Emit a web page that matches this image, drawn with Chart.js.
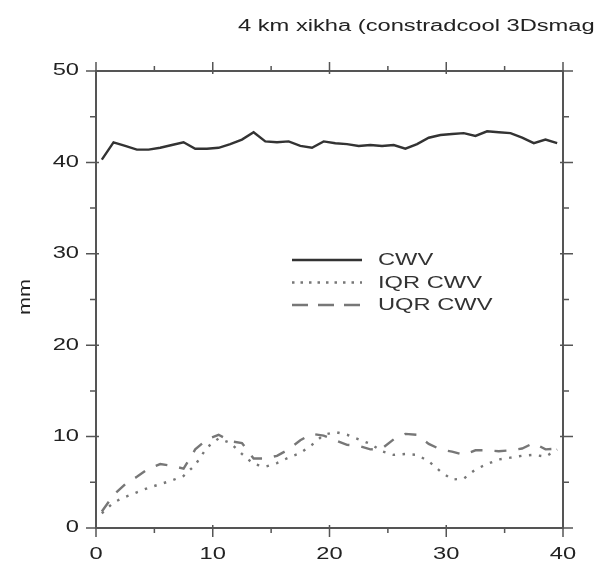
<!DOCTYPE html>
<html>
<head>
<meta charset="utf-8">
<script src="https://cdn.jsdelivr.net/npm/chart.js@4/dist/chart.umd.min.js"></script>
<style>
  html, body { margin: 0; padding: 0; background: #fff; }
  canvas { display: block; }
</style>
</head>
<body>
<canvas id="cwvChart" width="602" height="572"></canvas>
<script>
const dias = [0.5, 1.5, 2.5, 3.5, 4.5, 5.5, 6.5, 7.5, 8.5, 9.5,
  10.5, 11.5, 12.5, 13.5, 14.5, 15.5, 16.5, 17.5, 18.5, 19.5,
  20.5, 21.5, 22.5, 23.5, 24.5, 25.5, 26.5, 27.5, 28.5, 29.5,
  30.5, 31.5, 32.5, 33.5, 34.5, 35.5, 36.5, 37.5, 38.5, 39.5];

const cwv = [40.3, 42.2, 41.8, 41.4, 41.4, 41.6, 41.9, 42.2, 41.5, 41.5,
  41.6, 42.0, 42.5, 43.3, 42.3, 42.2, 42.3, 41.8, 41.6, 42.3,
  42.1, 42.0, 41.8, 41.9, 41.8, 41.9, 41.5, 42.0, 42.7, 43.0,
  43.1, 43.2, 42.9, 43.4, 43.3, 43.2, 42.7, 42.1, 42.5, 42.1];

const iqr = [1.6, 2.8, 3.4, 3.9, 4.4, 4.8, 5.2, 5.7, 6.9, 8.8,
  9.8, 9.3, 8.1, 7.0, 6.7, 7.1, 7.7, 8.2, 9.1, 10.2,
  10.5, 10.2, 9.7, 9.2, 8.4, 8.0, 8.1, 8.0, 7.3, 6.2,
  5.3, 5.4, 6.4, 7.0, 7.5, 7.7, 7.9, 8.0, 7.8, 8.6];

const uqr = [1.8, 3.6, 4.8, 5.6, 6.5, 7.0, 6.8, 6.5, 8.6, 9.7,
  10.2, 9.5, 9.3, 7.6, 7.6, 7.9, 8.6, 9.6, 10.3, 10.1,
  9.6, 9.1, 9.0, 8.6, 8.7, 9.7, 10.3, 10.2, 9.2, 8.6,
  8.35, 8.0, 8.5, 8.5, 8.4, 8.5, 8.7, 9.3, 8.6, 8.7];

const xTicks = [0, 10, 20, 30, 40];
const yTicks = [0, 10, 20, 30, 40, 50];
const titulo = '4 km xikha (constradcool 3Dsmag';
const ejeY = 'mm';

const FUENTE = '"Liberation Sans", Arial, sans-serif';
const EJE = '#555';
const ANCHO = 1.48; // letra ensanchada

const series = [
  { label: 'CWV', data: cwv, color: '#333', width: 2.4, dash: [], dashLey: [] },
  { label: 'IQR CWV', data: iqr, color: '#777', width: 2.4, dash: [2.5, 7.5], dashLey: [2.5, 6] },
  { label: 'UQR CWV', data: uqr, color: '#777', width: 2.4, dash: [12, 12], dashLey: [16, 10] },
];

function texto(ctx, t, x, y, align, ancho) {
  ctx.save();
  ctx.translate(x, y);
  ctx.scale(ancho, 1);
  ctx.textAlign = align;
  ctx.fillText(t, 0, 0);
  ctx.restore();
}

// marco, marcas y etiquetas de ejes, titulo y leyenda
const marcoYLeyenda = {
  id: 'marcoYLeyenda',
  afterDraw(chart) {
    const { ctx, chartArea: a, scales } = chart;
    const sx = scales.x, sy = scales.y;
    ctx.save();
    ctx.strokeStyle = EJE;
    ctx.lineWidth = 2;
    ctx.strokeRect(a.left, a.top, a.right - a.left, a.bottom - a.top);

    ctx.lineWidth = 1.5;
    ctx.beginPath();
    for (let v = 0; v <= 40; v += 5) {
      const px = sx.getPixelForValue(v);
      const mayor = v % 10 === 0;
      const fuera = mayor ? 9 : 5, dentro = mayor ? 3 : 0;
      ctx.moveTo(px, a.bottom + fuera); ctx.lineTo(px, a.bottom - dentro);
      ctx.moveTo(px, a.top - fuera); ctx.lineTo(px, a.top + dentro);
    }
    for (let v = 0; v <= 50; v += 5) {
      const py = sy.getPixelForValue(v);
      const mayor = v % 10 === 0;
      const fuera = mayor ? 10 : 6, dentro = mayor ? 3 : 0;
      ctx.moveTo(a.left - fuera, py); ctx.lineTo(a.left + dentro, py);
      ctx.moveTo(a.right + fuera, py); ctx.lineTo(a.right - dentro, py);
    }
    ctx.stroke();

    ctx.fillStyle = '#222';
    ctx.font = '16px ' + FUENTE;
    ctx.textBaseline = 'middle';

    xTicks.forEach(v => texto(ctx, String(v), sx.getPixelForValue(v), 555, 'center', ANCHO));
    yTicks.forEach(v => texto(ctx, String(v), 79, sy.getPixelForValue(v), 'right', ANCHO));

    texto(ctx, titulo, 238, 27, 'left', ANCHO);

    ctx.save();
    ctx.translate(26, 297);
    ctx.rotate(-Math.PI / 2);
    ctx.scale(1.35, 1);
    ctx.textAlign = 'center';
    ctx.fillText(ejeY, 0, 0);
    ctx.restore();

    // leyenda
    const x0 = 292, x1 = 362;
    series.forEach((s, i) => {
      const y = 260 + i * 22.5;
      ctx.strokeStyle = s.color;
      ctx.lineWidth = s.width;
      ctx.setLineDash(s.dashLey);
      ctx.beginPath();
      ctx.moveTo(x0, y); ctx.lineTo(x1, y);
      ctx.stroke();
      ctx.setLineDash([]);
      ctx.fillStyle = '#333';
      texto(ctx, s.label, 378, y + 1, 'left', ANCHO);
    });
    ctx.restore();
  },
};

new Chart(document.getElementById('cwvChart'), {
  type: 'line',
  data: {
    datasets: series.map(s => ({
      label: s.label,
      data: dias.map((d, i) => ({ x: d, y: s.data[i] })),
      borderColor: s.color,
      borderWidth: s.width,
      borderDash: s.dash,
      pointRadius: 0,
      tension: 0,
      fill: false,
    })),
  },
  options: {
    responsive: false,
    animation: false,
    layout: { padding: { top: 71, right: 39, left: 0, bottom: 0 } },
    scales: {
      x: {
        type: 'linear',
        min: 0,
        max: 40,
        afterFit: (s) => { s.height = 44; },
        afterBuildTicks: (s) => { s.ticks = xTicks.map(v => ({ value: v })); },
        grid: { display: false, drawTicks: false },
        border: { display: false },
        ticks: { display: false },
      },
      y: {
        min: 0,
        max: 50,
        afterFit: (s) => { s.width = 96; },
        afterBuildTicks: (s) => { s.ticks = yTicks.map(v => ({ value: v })); },
        grid: { display: false, drawTicks: false },
        border: { display: false },
        ticks: { display: false },
      },
    },
    plugins: {
      legend: { display: false },
      tooltip: { enabled: false },
    },
  },
  plugins: [marcoYLeyenda],
});
</script>
</body>
</html>
